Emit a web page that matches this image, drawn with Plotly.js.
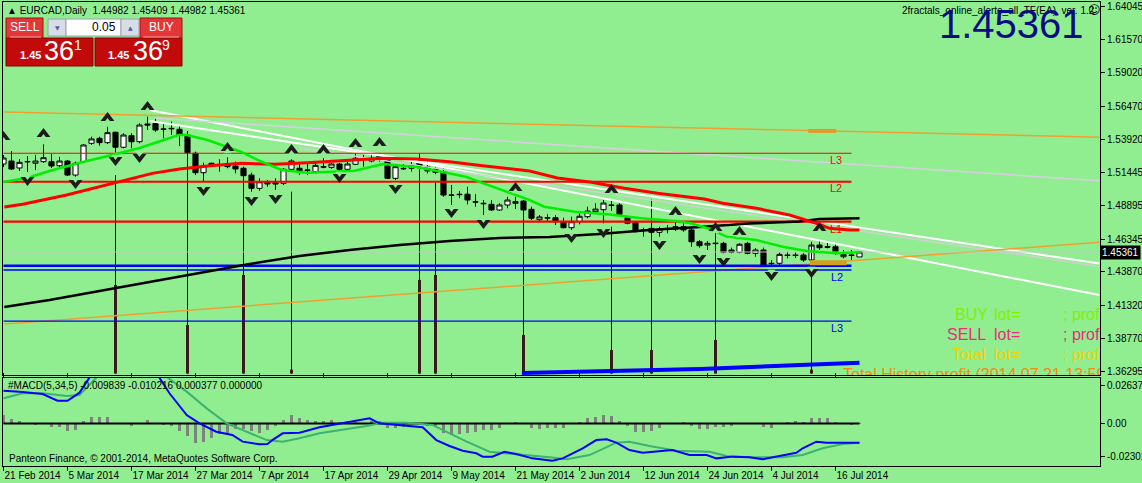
<!DOCTYPE html>
<html><head><meta charset="utf-8">
<script src="https://cdn.plot.ly/plotly-3.0.1.min.js"></script>
<style>html,body{margin:0;padding:0;background:#90EE90;overflow:hidden}#chart{width:1142px;height:483px}</style>
</head><body><div id="chart"></div>
<script>
// ---------------- DATA ----------------
const dateLabels = ['21 Feb 2014','5 Mar 2014','17 Mar 2014','27 Mar 2014','7 Apr 2014','17 Apr 2014','29 Apr 2014','9 May 2014','21 May 2014','2 Jun 2014','12 Jun 2014','24 Jun 2014','4 Jul 2014','16 Jul 2014'];
const labelBars = [0,8,16,24,32,40,48,56,64,72,80,88,96,104];
const priceTicks = [1.64045,1.61570,1.59020,1.56470,1.53920,1.51445,1.48895,1.46345,1.43870,1.41320,1.38770,1.36295];
const macdTicks = [0.026377,0,-0.023026];
const macdTickText = ['0.026377','0.00','-0.023026'];

const openP = [1.5206,1.5229,1.5176,1.5222,1.5212,1.5224,1.5224,1.5193,1.5229,1.5122,1.5224,1.5364,1.5402,1.5369,1.5448,1.5334,1.5422,1.5376,1.5511,1.5516,1.5473,1.5478,1.5471,1.5427,1.5288,1.5140,1.5212,1.5199,1.5204,1.5191,1.5174,1.5122,1.5021,1.5067,1.5064,1.5059,1.5166,1.5174,1.5161,1.5148,1.5186,1.5181,1.5206,1.5166,1.5204,1.5244,1.5229,1.5270,1.5250,1.5097,1.5174,1.5174,1.5229,1.5186,1.5168,1.5148,1.4970,1.4976,1.4976,1.4919,1.4907,1.4899,1.4856,1.4894,1.4907,1.4924,1.4861,1.4782,1.4797,1.4797,1.4767,1.4721,1.4767,1.4805,1.4843,1.4858,1.4894,1.4894,1.4797,1.4759,1.4704,1.4716,1.4686,1.4716,1.4711,1.4729,1.4704,1.4614,1.4589,1.4604,1.4602,1.4551,1.4534,1.4602,1.4526,1.4551,1.4450,1.4450,1.4513,1.4513,1.4513,1.4475,1.4589,1.4576,1.4576,1.4500,1.4513,1.44982];
const highP = [1.5275,1.5305,1.5244,1.5267,1.5275,1.5356,1.5282,1.5260,1.5237,1.5224,1.5359,1.5414,1.5414,1.5490,1.5452,1.5440,1.5440,1.5516,1.5567,1.5557,1.5516,1.5529,1.5503,1.5440,1.5300,1.5216,1.5216,1.5242,1.5257,1.5224,1.5186,1.5140,1.5097,1.5084,1.5097,1.5174,1.5242,1.5212,1.5212,1.5224,1.5250,1.5216,1.5216,1.5224,1.5288,1.5275,1.5275,1.5288,1.5270,1.5204,1.5212,1.5224,1.5262,1.5224,1.5186,1.5174,1.5046,1.5001,1.5033,1.4976,1.4932,1.4932,1.4907,1.4957,1.4957,1.4932,1.4881,1.4818,1.4823,1.4818,1.4797,1.4805,1.4831,1.4881,1.4907,1.4932,1.4940,1.4907,1.4805,1.4767,1.4721,1.4742,1.4729,1.4742,1.4767,1.4755,1.4716,1.4627,1.4620,1.4640,1.4614,1.4569,1.4602,1.4614,1.4566,1.4569,1.4475,1.4534,1.4538,1.4534,1.4526,1.4614,1.4627,1.4614,1.4602,1.4551,1.4551,1.45409];
const lowP = [1.5183,1.5161,1.5153,1.5145,1.5161,1.5214,1.5176,1.5183,1.5115,1.5110,1.5214,1.5351,1.5346,1.5359,1.5295,1.5326,1.5326,1.5364,1.5465,1.5452,1.5402,1.5427,1.5343,1.5275,1.5122,1.5071,1.5186,1.5148,1.5174,1.5135,1.5084,1.4995,1.5003,1.5033,1.5008,1.5046,1.5155,1.5122,1.5122,1.5135,1.5174,1.5170,1.5148,1.5155,1.5199,1.5186,1.5219,1.5224,1.5092,1.5084,1.5161,1.5148,1.5174,1.5135,1.5128,1.4957,1.4894,1.4945,1.4899,1.4881,1.4818,1.4848,1.4848,1.4869,1.4863,1.4818,1.4780,1.4767,1.4772,1.4742,1.4716,1.4704,1.4747,1.4793,1.4838,1.4755,1.4848,1.4818,1.4747,1.4686,1.4653,1.4665,1.4653,1.4678,1.4696,1.4691,1.4576,1.4569,1.4551,1.4569,1.4526,1.4526,1.4526,1.4518,1.4500,1.4424,1.4424,1.4437,1.4488,1.4490,1.4462,1.4450,1.4551,1.4564,1.4513,1.4488,1.4475,1.44982];
const closeP = [1.5252,1.5168,1.5219,1.5225,1.5229,1.5254,1.5191,1.5229,1.5122,1.5212,1.5351,1.5397,1.5369,1.5445,1.5334,1.5427,1.5376,1.5503,1.5503,1.5465,1.5471,1.5475,1.5427,1.5292,1.5140,1.5191,1.5199,1.5196,1.5186,1.5168,1.5117,1.5021,1.5071,1.5054,1.5054,1.5166,1.5229,1.5148,1.5158,1.5196,1.5183,1.5206,1.5166,1.5206,1.5250,1.5242,1.5250,1.5244,1.5097,1.5186,1.5170,1.5193,1.5178,1.5153,1.5143,1.4970,1.4968,1.4973,1.4932,1.4916,1.4904,1.4856,1.4894,1.4932,1.4919,1.4856,1.4793,1.4803,1.4795,1.4767,1.4721,1.4767,1.4808,1.4848,1.4863,1.4909,1.4891,1.4823,1.4755,1.4691,1.4701,1.4686,1.4711,1.4713,1.4729,1.4704,1.4614,1.4584,1.4602,1.4600,1.4534,1.4534,1.4595,1.4526,1.4551,1.4437,1.4447,1.4518,1.4510,1.4510,1.4475,1.4589,1.4569,1.4573,1.4526,1.4518,1.4510,1.45361];

// moving averages (sampled along the drawn lines)
const fastMaBars = [0,2.9,5.75,9.9,14.1,17,21.9,22.9,25.5,29.75,31.75,34.75,38,43.9,47.4,51.6,54.9,57.9,59.9,62.9,65.75,67.6,71.4,75.5,79.75,83.9,85.75,87.9,90.4,94.1,97.4,100.4,104.1,107];
const fastMaVals = [1.5069,1.5100,1.5153,1.5222,1.5282,1.5328,1.5427,1.5427,1.5389,1.5298,1.5237,1.5161,1.5140,1.5155,1.5206,1.5183,1.5145,1.5107,1.5061,1.4993,1.4932,1.4881,1.4843,1.4823,1.4793,1.4772,1.4757,1.4719,1.4653,1.4627,1.4576,1.4544,1.4526,1.4534];
const slowMaBars = [0.1,2.4,7.9,14.1,18.6,22,25.5,29.75,33.9,38,43.9,47.4,51.6,55.75,59.9,65.75,69.25,73.5,77.6,81.75,87.6,89.9,94.1,98.25,101.6,103.25,105.75,107];
const slowMaVals = [1.4879,1.4899,1.4970,1.5067,1.5135,1.5168,1.5191,1.5212,1.5204,1.5216,1.5237,1.5250,1.5244,1.5224,1.5193,1.5153,1.5100,1.5067,1.5021,1.4983,1.4940,1.4907,1.4869,1.4818,1.4755,1.4716,1.4704,1.4704];
const longMaBars = [0.1,5.75,12,18.25,24.5,30.75,37,43.25,49.5,55.75,62,68.25,74.5,80.75,87,93.25,99.5,102,107];
const longMaVals = [1.4117,1.4170,1.4239,1.4307,1.4376,1.4445,1.4506,1.4551,1.4589,1.4620,1.4643,1.4650,1.4673,1.4704,1.4726,1.4753,1.4768,1.4787,1.4793];

// horizontal levels
const levelNames = ['L3','L2','L1','L2','L2b','L3'];
const levelPrices = [1.5288,1.5071,1.4767,1.4432,1.4399,1.4010];
const levelStartBar = 0, levelEndBar = 106;
const bidPrice = 1.45361;

// trend lines [startBar, startPrice, endBar, endPrice]
const trendStartBars = [18.25,18.25,37,18.9,0.1,0.1];
const trendStartVals = [1.5534,1.5618,1.5328,1.5557,1.5602,1.3988];
const trendEndBars = [137,137,137,137,137,137];
const trendEndVals = [1.4448,1.4208,1.4426,1.5079,1.5410,1.4610];

// fractal vertical lines
const fracBars = [14,23,30,36,52,54,65,76,81,89,101];
const fracTop = [1.5122,1.5458,1.5084,1.4995,1.5288,1.5071,1.4818,1.4729,1.4940,1.4767,1.4602];
const fracThickTop = [1.4285,1.3980,1.4361,1.3640,1.4323,1.4361,1.3904,1.3789,1.3789,1.3866,1.3640];
const fracBottom = 1.3610;

// fractal arrows
const upArrowBars = [0,5,13,18,28,36,40,44,47,64,76,84,89,92,102];
const upArrowVals = [1.5412,1.5435,1.5557,1.5640,1.5328,1.5313,1.5313,1.5359,1.5366,1.5023,1.5008,1.4841,1.4719,1.4688,1.4719];
const dnArrowBars = [3,9,14,17,25,31,34,42,49,56,60,71,75,82,87,90,96,101];
const dnArrowVals = [1.5084,1.5062,1.5237,1.5260,1.5008,1.4932,1.4947,1.5107,1.5023,1.4841,1.4757,1.4650,1.4688,1.4597,1.4490,1.4467,1.4361,1.4384];

// bottom blue line and EA blobs
const blueBars = [64.8,87.1,99.6,107];
const blueVals = [1.3615,1.3645,1.3675,1.3693];
const orangeBlobBars = [100.6,104.1];
const orangeBlobVal = 1.5458;
const goldBlobBars = [100.8,105.4];
const goldBlobVal = 1.4455;

// MACD
const histVals = [0.0062,0.0028,0.0014,0.0002,-0.0007,0.0002,-0.0023,-0.0023,-0.0053,-0.0042,0.0016,0.0046,0.0046,0.0046,0.0002,-0.0002,-0.0019,0.0002,0.0021,0.0002,-0.0007,-0.0019,-0.0049,-0.0088,-0.0134,-0.0130,-0.0099,-0.0076,-0.0065,-0.0037,-0.0037,-0.0053,-0.0065,-0.0046,-0.0019,0.0021,0.0056,0.0040,0.0023,0.0016,0.0016,0.0021,0.0009,0.0016,0.0009,0.0005,0.0016,0.0016,-0.0030,-0.0030,-0.0023,-0.0002,0.0002,-0.0014,-0.0019,-0.0065,-0.0081,-0.0074,-0.0069,-0.0058,-0.0046,-0.0046,-0.0028,-0.0002,0.0012,0.0002,-0.0028,-0.0037,-0.0028,-0.0028,-0.0028,-0.0002,0.0012,0.0040,0.0046,0.0062,0.0051,0.0019,-0.0019,-0.0058,-0.0058,-0.0051,-0.0028,-0.0005,0.0002,0.0012,-0.0019,-0.0035,-0.0035,-0.0023,-0.0023,-0.0019,-0.0002,0.0002,-0.0002,-0.0023,-0.0028,-0.0002,0.0012,0.0019,0.0012,0.0035,0.0040,0.0040,0.0012,0.0002,-0.0012,0.0002];
const macdBars = [0,2,4.9,6.75,8,9.5,11,15,19,20.75,22.9,24.5,26.6,28.6,29.9,32,33,33.6,34.9,37,39.5,42.9,45.75,47,49.5,52.4,54.1,55.75,57.4,59.1,59.9,61.1,62.6,64.1,66.1,68.6,69.9,72.4,74.1,75.4,76.6,78.25,79.9,81.6,83.6,85.75,87.9,89.1,91.1,93.25,94.9,97,99.1,99.9,101.6,102.9,105.75,107];
const macdVals = [0.0228,0.0221,0.0205,0.0158,0.0158,0.0214,0.0340,0.0400,0.0360,0.0210,0.0059,0.0001,-0.0057,-0.0080,-0.0126,-0.0144,-0.0142,-0.0115,-0.0068,-0.0064,-0.0026,0.0006,0.0036,0.0001,-0.0010,-0.0026,-0.0115,-0.0156,-0.0189,-0.0207,-0.0230,-0.0230,-0.0196,-0.0212,-0.0242,-0.0258,-0.0242,-0.0172,-0.0115,-0.0110,-0.0133,-0.0184,-0.0203,-0.0196,-0.0184,-0.0219,-0.0219,-0.0242,-0.0230,-0.0234,-0.0248,-0.0226,-0.0203,-0.0172,-0.0126,-0.0133,-0.0133,-0.0133];
const signalBars = [0,2.4,4.9,7.9,9.5,12,16,20,22.9,25.4,27.9,30.4,32.9,34.9,37,39.5,42.9,45.4,47.4,50.4,53.6,55.75,57.9,60.75,64.1,68.25,70.4,73.25,76.6,78.25,80.75,84.1,88.25,90.4,93.25,97.4,99.9,102.4,104.9,107];
const signalVals = [0.0175,0.0210,0.0210,0.0191,0.0198,0.0340,0.0380,0.0340,0.0221,0.0105,0.0001,-0.0057,-0.0115,-0.0126,-0.0103,-0.0068,-0.0040,-0.0017,0.0006,0.0006,-0.0010,-0.0068,-0.0126,-0.0196,-0.0212,-0.0235,-0.0248,-0.0219,-0.0133,-0.0126,-0.0156,-0.0189,-0.0196,-0.0226,-0.0234,-0.0234,-0.0219,-0.0172,-0.0142,-0.0133];

// ---------------- GEOMETRY / STYLE ----------------
const FONT = 'Liberation Sans, Arial, sans-serif';
const PL = 3, PR = 1100, PT = 2, PB = 466;        // plot area in pixels
const MAIN_BOTTOM = 375, MACD_TOP = 377.5;
const BAR0 = 3.5, BARW = 8;                      // bar 0 pixel, px per bar
const PRICE_PX = 0.00076173, PRICE_AT0 = 1.64555; // price scale of main panel
const MACD_ZERO = 423.5, MACD_PX = 1/1440.6;
function PX(x){return (x-PL)/(PR-PL);}
function PY(y){return (PB-y)/(PB-PT);}
function barAt(px){return (px-BAR0)/BARW;}
function priceAt(py){return PRICE_AT0-PRICE_PX*py;}
const barIdx = closeP.map((_,i)=>i);
const lastBar = barIdx[barIdx.length-1];

const traces = [];
function line(x,y,color,width,yaxis,dash){
  traces.push({type:'scatter',mode:'lines',x:x,y:y,xaxis:'x',yaxis:yaxis||'y',
    line:{color:color,width:width,dash:dash||'solid'},hoverinfo:'skip',showlegend:false});
}

// fractal vertical lines
fracBars.forEach((b,i)=>{
  line([b,b],[fracTop[i],fracBottom],'#000000',1);
  line([b,b],[fracThickTop[i],fracBottom],'#3a1a1a',3);
});
// bottom blue thick line
line(blueBars,blueVals,'#0000ff',4);
// trend lines
const trendColors = ['#ffffff','#ffffff','#d0d0d0','#d8cfe0','#eea030','#eea030'];
const trendWidths = [2,2,1.5,1.5,1.5,1.5];
trendStartBars.forEach((b,i)=>line([b,trendEndBars[i]],[trendStartVals[i],trendEndVals[i]],trendColors[i],trendWidths[i]));
// bid line
line([-1,140],[bidPrice,bidPrice],'#c8c8c8',1);
// horizontal levels
const levelColors = ['#ff0000','#ff0000','#ff0000','#0000ff','#0000ff','#0000ff'];
const levelWidths = [1.2,2.2,2.2,2.5,1.5,1.2];
levelPrices.forEach((p,i)=>line([levelStartBar,levelEndBar],[p,p],levelColors[i],levelWidths[i]));
// moving averages
line(longMaBars,longMaVals,'#000000',2.5);
line(slowMaBars,slowMaVals,'#ff0000',3);
line(fastMaBars,fastMaVals,'#00ee00',2.5);
// EA blobs
line(orangeBlobBars,[orangeBlobVal,orangeBlobVal],'#e09a30',4);
line(goldBlobBars,[goldBlobVal,goldBlobVal],'#d4a020',5);

// candles
traces.push({type:'candlestick',x:barIdx,open:openP,high:highP,low:lowP,close:closeP,xaxis:'x',yaxis:'y',
  increasing:{line:{color:'#000000',width:1},fillcolor:'#ffffff'},
  decreasing:{line:{color:'#000000',width:1},fillcolor:'#000000'},
  whiskerwidth:0,hoverinfo:'skip',showlegend:false});

// fractal arrows (chevrons)
const notch = 3.5*PRICE_PX;
traces.push({type:'scatter',mode:'markers',x:upArrowBars,y:upArrowVals,xaxis:'x',yaxis:'y',
  marker:{symbol:'triangle-up',size:12,color:'#1c1c1c'},hoverinfo:'skip',showlegend:false});
traces.push({type:'scatter',mode:'markers',x:upArrowBars,y:upArrowVals.map(v=>v-notch),xaxis:'x',yaxis:'y',
  marker:{symbol:'triangle-up',size:7,color:'#90EE90'},hoverinfo:'skip',showlegend:false});
traces.push({type:'scatter',mode:'markers',x:dnArrowBars,y:dnArrowVals,xaxis:'x',yaxis:'y',
  marker:{symbol:'triangle-down',size:12,color:'#1c1c1c'},hoverinfo:'skip',showlegend:false});
traces.push({type:'scatter',mode:'markers',x:dnArrowBars,y:dnArrowVals.map(v=>v+notch),xaxis:'x',yaxis:'y',
  marker:{symbol:'triangle-down',size:7,color:'#90EE90'},hoverinfo:'skip',showlegend:false});

// clipped EA text rows
function clipText(px,py,txt,color,size){
  traces.push({type:'scatter',mode:'text',x:[barAt(px)],y:[priceAt(py)],text:[txt],xaxis:'x',yaxis:'y',
    textposition:'middle right',cliponaxis:true,textfont:{family:FONT,size:size,color:color},hoverinfo:'skip',showlegend:false});
}
clipText(955,316,'BUY','#80f000',16); clipText(994,316,'lot=','#80f000',16); clipText(1063,316,'; profit=','#80f000',16);
clipText(947,336,'SELL','#ee2a80',16); clipText(994,336,'lot=','#ee2a80',16); clipText(1063,336,'; profit=','#ee2a80',16);
clipText(952,356,'Total','#f2d200',16); clipText(994,356,'lot=','#f2d200',16); clipText(1063,356,'; profit=','#f2d200',16);
clipText(843,376,'Total History profit (2014.07.21 13:59:00)','#f08c10',16);

// MACD
traces.push({type:'bar',x:barIdx,y:histVals,xaxis:'x',yaxis:'y2',width:0.35,
  marker:{color:'#808080',line:{width:0}},hoverinfo:'skip',showlegend:false});
line([0,lastBar],[0,0],'#000000',2,'y2');
line(signalBars,signalVals,'#3cb371',2,'y2');
line(macdBars,macdVals,'#0000ff',2,'y2');

// ---------------- LAYOUT ----------------
const ann = [];
function txt(x,y,t,opt){
  ann.push(Object.assign({xref:'paper',yref:'paper',x:PX(x),y:PY(y),text:t,showarrow:false,
    xanchor:'left',yanchor:'middle',font:{family:FONT,size:10,color:'#000000'}},opt||{}));
}
txt(5,10,'\u25B2 EURCAD,Daily  1.44982 1.45409 1.44982 1.45361',{font:{family:FONT,size:10,color:'#000'}});
txt(6,385,'#MACD(5,34,5) -0.009839 -0.010216 0.000377 0.000000');
txt(7,458,'Panteon Finance, \u00A9 2001-2014, MetaQuotes Software Corp.');
txt(900,10,'2fractals_online_alerte_all_TF(EA)  ver. 1.2');
txt(1086,10,'\u263A',{font:{family:'DejaVu Sans',size:12,color:'#000'}});
txt(1086,24,'1.45361',{xanchor:'right',font:{family:FONT,size:40,color:'#0b0b82'}});
// level labels
txt(828,160,'L3',{font:{family:FONT,size:11,color:'#ff0000'}});
txt(828,188,'L2',{font:{family:FONT,size:11,color:'#ff0000'}});
txt(828,229,'L1',{font:{family:FONT,size:11,color:'#ff0000'}});
txt(829,277,'L2',{font:{family:FONT,size:11,color:'#0000ff'}});
txt(829,328,'L3',{font:{family:FONT,size:11,color:'#0000ff'}});
// price tag
txt(1100,252.7,'1.45361',{bgcolor:'#000000',borderpad:1,font:{family:FONT,size:10,color:'#ffffff'}});
// trade panel texts
txt(25,27.5,'SELL',{xanchor:'center',font:{family:FONT,size:12,color:'#ffffff'}});
txt(161,27.5,'BUY',{xanchor:'center',font:{family:FONT,size:12,color:'#ffffff'}});
txt(57,27,'\u25BC',{xanchor:'center',font:{family:'DejaVu Sans',size:6,color:'#5060a0'}});
txt(130,27,'\u25B2',{xanchor:'center',font:{family:'DejaVu Sans',size:6,color:'#5060a0'}});
txt(118,27.5,'0.05',{xanchor:'right',font:{family:FONT,size:12,color:'#000000'}});
txt(18,55,'<b>1.45</b>',{font:{family:FONT,size:11,color:'#ffffff'}});
txt(42,51,'36',{font:{family:FONT,size:27,color:'#ffffff'}});
txt(72,45,'1',{font:{family:FONT,size:14,color:'#ffffff'}});
txt(106,55,'<b>1.45</b>',{font:{family:FONT,size:11,color:'#ffffff'}});
txt(131,51,'36',{font:{family:FONT,size:27,color:'#ffffff'}});
txt(160,45,'9',{font:{family:FONT,size:14,color:'#ffffff'}});

const shapes = [];
function rect(x0,y0,x1,y1,fill,lineColor){
  shapes.push({type:'rect',xref:'paper',yref:'paper',x0:PX(x0),x1:PX(x1),y0:PY(y1),y1:PY(y0),
    fillcolor:fill,line:{color:lineColor,width:1},layer:'above'});
}
function seg(x0,y0,x1,y1,color,w){
  shapes.push({type:'line',xref:'paper',yref:'paper',x0:PX(x0),x1:PX(x1),y0:PY(y0),y1:PY(y1),line:{color:color,width:w},layer:'above'});
}
rect(6,38,93,66,'#c20a0a','#8a0000');
rect(95,38,182,66,'#c20a0a','#8a0000');
rect(6,18,43,38,'#e43636','#a01010');
rect(140,18,182,38,'#e43636','#a01010');
seg(10,37,41,37,'#f4a0a0',1);
seg(143,37,179,37,'#f4a0a0',1);
rect(48,19,66,36,'#d8dce6','#9aa0b0');
rect(66,19,121,36,'#ffffff','#9aa0b0');
rect(121,19,139,36,'#d8dce6','#9aa0b0');

const layout = {
  width:1142,height:483,
  margin:{l:PL,r:1142-PR,t:PT,b:483-PB,pad:0},
  paper_bgcolor:'#90EE90',plot_bgcolor:'#90EE90',
  showlegend:false,hovermode:false,dragmode:false,
  boxgap:0.2,boxgroupgap:0.2,bargap:0,
  font:{family:FONT,size:10,color:'#000'},
  xaxis:{domain:[0,1],range:[barAt(PL),barAt(PR)],anchor:'y2',showgrid:false,zeroline:false,
    showline:true,linecolor:'#000',linewidth:1,mirror:'all',automargin:false,
    ticks:'outside',ticklen:4,tickcolor:'#000',tickwidth:1,tickangle:0,
    tickvals:labelBars,ticktext:dateLabels,ticklabelposition:'outside right',
    tickfont:{family:FONT,size:10,color:'#000'},rangeslider:{visible:false},fixedrange:true},
  yaxis:{domain:[PY(MAIN_BOTTOM),1],range:[priceAt(MAIN_BOTTOM),priceAt(PT)],anchor:'x',side:'right',
    showgrid:false,zeroline:false,showline:true,linecolor:'#000',linewidth:1,mirror:true,automargin:false,
    ticks:'outside',ticklen:4,tickcolor:'#000',tickvals:priceTicks,ticktext:priceTicks.map(v=>v.toFixed(5)),
    tickfont:{family:FONT,size:10,color:'#000'},fixedrange:true},
  yaxis2:{domain:[0,PY(MACD_TOP)],range:[(MACD_ZERO-PB)*MACD_PX,(MACD_ZERO-MACD_TOP)*MACD_PX],anchor:'x',side:'right',
    showgrid:false,zeroline:false,showline:true,linecolor:'#000',linewidth:1,mirror:true,automargin:false,
    ticks:'outside',ticklen:4,tickcolor:'#000',tickvals:macdTicks,ticktext:macdTickText,
    tickfont:{family:FONT,size:10,color:'#000'},fixedrange:true},
  annotations:ann,shapes:shapes
};
Plotly.newPlot('chart',traces,layout,{staticPlot:true,displayModeBar:false});
</script></body></html>
